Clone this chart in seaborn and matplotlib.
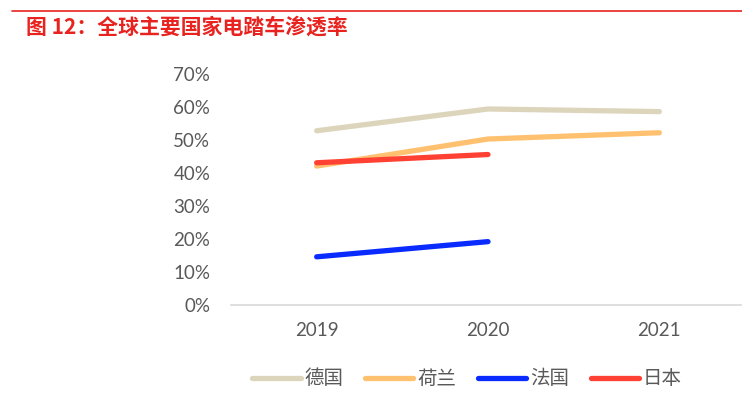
import pandas as pd
import matplotlib
matplotlib.use('Agg')
import matplotlib.pyplot as plt
from matplotlib.ticker import PercentFormatter
import seaborn as sns

years = [2019, 2020, 2021]
countries = ['德国', '荷兰', '法国', '日本']
germany = [0.528, 0.594, 0.586]
netherlands = [0.421, 0.503, 0.522]
france = [0.146, 0.192, None]
japan = [0.431, 0.456, None]
colors = ['#DDD4BC', '#FFC170', '#0A2BFF', '#FF4133']

series = {'德国': germany, '荷兰': netherlands, '法国': france, '日本': japan}
rows = []
for name in countries:
    for yr, val in zip(years, series[name]):
        rows.append({'year': yr, 'country': name, 'rate': val})
df = pd.DataFrame(rows).dropna()

sns.set_style('white')
plt.rcParams['font.family'] = ['Lato', 'Noto Sans CJK SC', 'DejaVu Sans']

fig = plt.figure(figsize=(7.42, 3.94), dpi=100)
ax = fig.add_axes([231 / 742, 1 - 305 / 394, (745 - 231) / 742, (305 - 74) / 394])

sns.lineplot(data=df, x='year', y='rate', hue='country', hue_order=countries,
             palette=dict(zip(countries, colors)), linewidth=3.8, ax=ax,
             solid_capstyle='round')

ax.set_xlim(2018.5, 2021.5)
ax.set_ylim(0, 0.70)
ax.set_xticks(years)
ax.set_yticks([i / 10 for i in range(8)])
ax.yaxis.set_major_formatter(PercentFormatter(1.0, decimals=0))
ax.tick_params(axis='both', length=0, labelsize=13.5, labelcolor='#595959')
ax.tick_params(axis='y', pad=15)
ax.tick_params(axis='x', pad=12)
ax.set_xlabel('')
ax.set_ylabel('')
for side in ['top', 'right', 'left']:
    ax.spines[side].set_visible(False)
ax.spines['bottom'].set_color('#D9D9D9')
ax.spines['bottom'].set_linewidth(1.2)

handles, labels = ax.get_legend_handles_labels()
ax.get_legend().remove()
for h in handles:
    h.set_linewidth(3.8)
leg = fig.legend(handles, labels, loc='center', bbox_to_anchor=(467 / 742, 1 - 379 / 394),
                 ncol=4, frameon=False, handlelength=2.5, handletextpad=0.2,
                 columnspacing=1.1, prop={'family': ['Noto Sans CJK SC'], 'size': 14})
for t in leg.get_texts():
    t.set_color('#595959')

# red header line and title
fig.add_artist(plt.Line2D([12 / 742, 1.0], [1 - 11 / 394, 1 - 11 / 394],
                          color='#E8231F', linewidth=1.2))
fig.text(26 / 742, 1 - 27 / 394, '图 12：全球主要国家电踏车渗透率', color='#E8231F',
         fontsize=15, fontweight='bold', family=['Noto Sans CJK SC'], va='center', ha='left')

fig.savefig('out.png', dpi=100)
